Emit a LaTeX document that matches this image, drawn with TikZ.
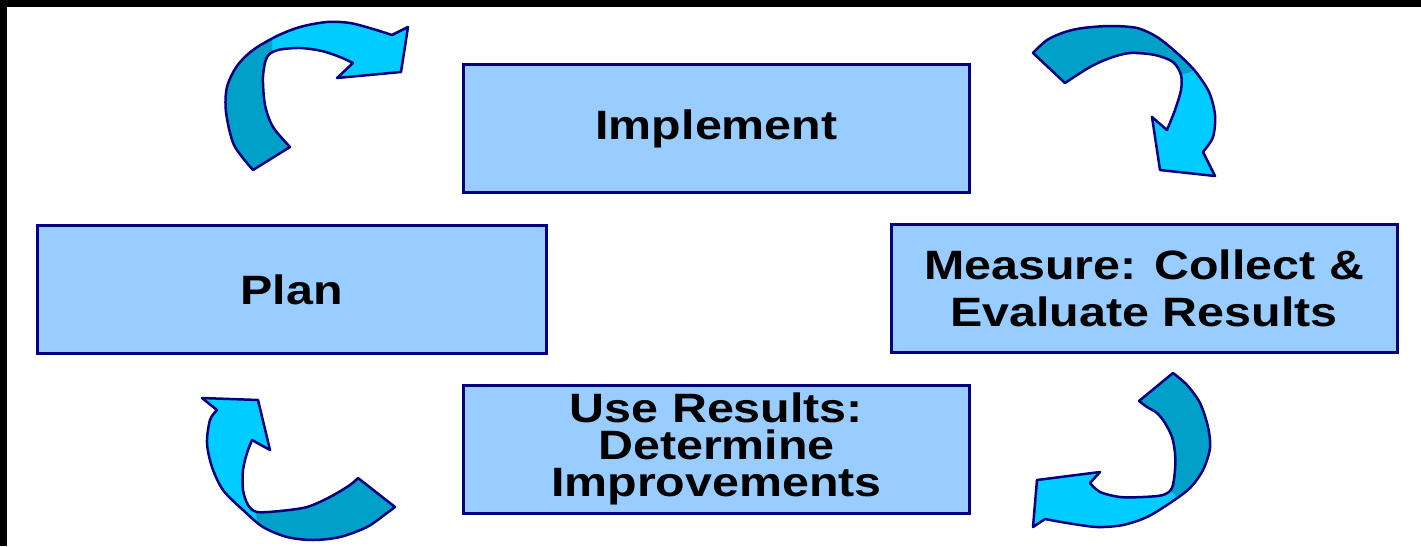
\documentclass[tikz,border=0pt]{standalone}
\usepackage{fontspec}
\setmainfont{Liberation Sans}[FakeStretch=1.18]
\usepackage{color}
\definecolor{stagefill}{HTML}{99CCFF}
\definecolor{navy}{HTML}{000080}
\definecolor{loophead}{HTML}{00CCFF}
\definecolor{looptail}{HTML}{00A0C8}

\newcommand{\loopTL}{plot[smooth] coordinates {(253,170) (234,145) (226,112) (227,87) (237,66) (253,50) (277,36) (300,27) (327,22) (350,23) (373,29) (392,35)}
  -- (408,27) -- (401,72) -- (337,78)
  -- plot[smooth] coordinates {(353,63) (340,57) (322,51) (300,48) (278,50) (267,57) (263,77) (265,105) (273,127) (290,147)} -- cycle}
\newcommand{\loopTR}{plot[smooth] coordinates {(1033,53) (1047,40) (1065,32) (1083,28) (1110,26) (1137,28) (1157,37) (1177,53) (1195,71) (1209,92) (1215,115) (1213,137) (1203,152)}
  -- (1215,176) -- (1160,170) -- (1152,117)
  -- plot[smooth] coordinates {(1167,130) (1175,110) (1181,90) (1181,75) (1173,62) (1155,55) (1130,53) (1110,58) (1090,67) (1065,83)} -- cycle}
\newcommand{\loopBR}{plot[smooth] coordinates {(1173,373) (1187,385) (1200,403) (1208,427) (1210,448) (1203,470) (1190,488) (1170,503) (1147,517) (1123,525) (1097,527) (1067,523) (1045,519)}
  -- (1033,527) -- (1037,480) -- (1100,472)
  -- plot[smooth] coordinates {(1090,483) (1100,492) (1120,497) (1143,497) (1163,495) (1172,488) (1175,470) (1175,453) (1172,437) (1165,423) (1157,413) (1147,407) (1139,401)} -- cycle}
\newcommand{\loopBL}{plot[smooth] coordinates {(395,507) (387,513) (367,527) (340,537) (313,540) (287,537) (263,527) (243,510) (223,490) (212,467) (207,443) (210,420) (217,410)}
  -- (202,398) -- (258,400) -- (270,450)
  -- plot[smooth] coordinates {(252,440) (247,453) (243,470) (243,490) (248,505) (257,512) (280,511) (307,507) (330,497) (350,485) (358,478)} -- cycle}

\begin{document}
\begin{tikzpicture}[x=1pt, y=-1pt,
  stage/.style={rectangle, draw=navy, fill=stagefill, line width=3pt,
    minimum width=506pt, minimum height=128pt, inner sep=0pt,
    align=center, font=\bfseries\fontsize{41}{47}\selectfont},
  loop/.style={draw=navy, line width=2.5pt, line join=round}
  ]
  \useasboundingbox (0,0) rectangle (1421,546);
  \fill[white] (0,0) rectangle (1421,546);
  \fill[black] (0,0) rectangle (1421,7);
  \fill[black] (0,0) rectangle (7,546);

  \node[stage] (implement) at (716.5,128.5) {Implement};
  \node[stage, minimum width=509pt] (plan) at (291.5,289.5) {Plan};
  \node[stage] (measure) at (1144,288) {Measure: Collect \&\\Evaluate Results};
  \node[stage, font=\bfseries\fontsize{41}{37}\selectfont] (results) at (716.5,449)
    {Use Results:\\Determine\\Improvements};

  \fill[loophead] \loopTL;
  \begin{scope}
    \clip (200,0) -- (272,0) -- (272,80) -- (320,200) -- (200,200) -- cycle;
    \fill[looptail] \loopTL;
  \end{scope}
  \draw[loop] \loopTL;

  \fill[loophead] \loopTR;
  \begin{scope}
    \clip (1000,0) -- (1260,0) -- (1260,50) -- (1165,80) -- (1000,200) -- cycle;
    \fill[looptail] \loopTR;
  \end{scope}
  \draw[loop] \loopTR;

  \fill[loophead] \loopBR;
  \begin{scope}
    \clip (1030,350) -- (1260,350) -- (1260,580) -- cycle;
    \fill[looptail] \loopBR;
  \end{scope}
  \draw[loop] \loopBR;

  \fill[loophead] \loopBL;
  \begin{scope}
    \clip (245,460) -- (420,460) -- (420,560) -- (265,560) -- cycle;
    \fill[looptail] \loopBL;
  \end{scope}
  \draw[loop] \loopBL;
\end{tikzpicture}
\end{document}
